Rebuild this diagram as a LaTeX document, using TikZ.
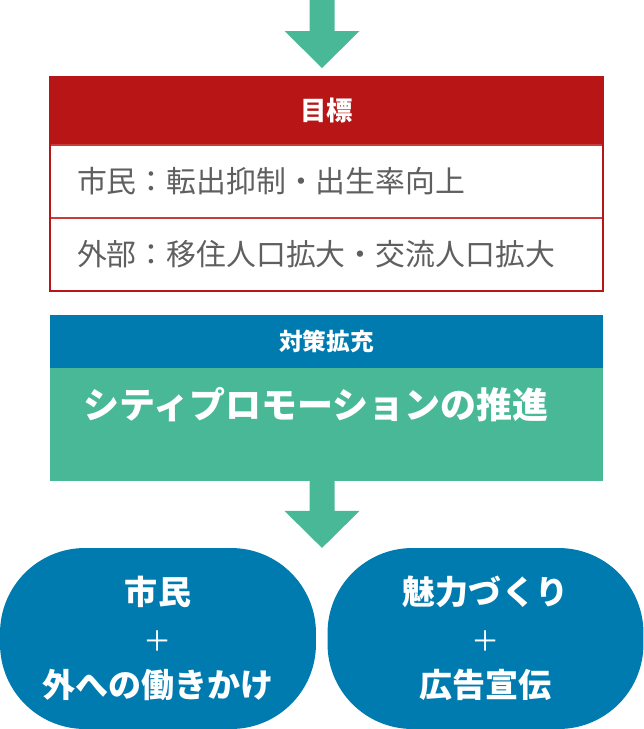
\documentclass[tikz,border=0pt]{standalone}
\usepackage{fontspec}
\newfontfamily\jp{Noto Sans CJK JP}
\usepackage{tikz}
\usetikzlibrary{positioning, calc}

\definecolor{goalred}{RGB}{183,21,22}
\definecolor{rowline}{RGB}{200,60,60}
\definecolor{planblue}{RGB}{0,123,176}
\definecolor{promogreen}{RGB}{73,184,150}
\definecolor{rowgray}{RGB}{95,95,95}

\tikzset{
  goalhead/.style={fill=goalred, text=white, font=\jp\bfseries\fontsize{15}{18}\selectfont,
    minimum width=11.06cm, minimum height=1.36cm, inner sep=0pt, outer sep=0pt},
  goalrow/.style={draw=rowline, line width=1.2pt, fill=white, text=rowgray,
    font=\jp\fontsize{17}{20}\selectfont, minimum width=11.06cm, minimum height=1.46cm,
    text width=9.98cm, align=left, inner xsep=0.54cm, inner ysep=0pt, outer sep=0pt},
  planhead/.style={fill=planblue, text=white, font=\jp\bfseries\fontsize{13.5}{16}\selectfont,
    minimum width=11.06cm, minimum height=1.06cm, inner sep=0pt, outer sep=0pt},
  promobox/.style={fill=promogreen, minimum width=11.06cm, minimum height=2.26cm,
    inner sep=0pt, outer sep=0pt},
  promotext/.style={text=white, font=\jp\bfseries\fontsize{20.5}{24}\selectfont, inner sep=0pt},
  pillbox/.style={fill=planblue, rounded corners=1.7cm, minimum width=6.32cm, minimum height=3.62cm,
    text=white, align=center, font=\jp\bfseries\fontsize{18.8}{26.6}\selectfont, inner sep=0pt}
}

% block arrow: #1 top of shaft, #2 tip
\newcommand{\flowarrow}[2]{%
  \fill[promogreen] ($(#1)+(-12.5,0)$) -- ($(#1)+(12.5,0)$) -- ($(#2)+(12.5,-37)$)
    -- ($(#2)+(37.5,-37)$) -- (#2) -- ($(#2)+(-37.5,-37)$) -- ($(#2)+(-12.5,-37)$) -- cycle;}

\begin{document}
\begin{tikzpicture}[x=0.02cm, y=-0.02cm]
\useasboundingbox (0,0) rectangle (644,729);

% goals
\node[goalhead] (goal) at (326.5,111) {目標};
\node[goalrow, below=0pt of goal] (citizen) {市民：転出抑制・出生率向上};
\node[goalrow, below=0pt of citizen] (outside) {外部：移住人口拡大・交流人口拡大};
\draw[goalred, line width=1.6pt] (goal.north west) rectangle (outside.south east);

% measures
\node[planhead, below=0.48cm of outside] (plan) {対策拡充};
\node[promobox, below=0pt of plan] (promo) {};
\node[promotext, anchor=west] (promolbl) at ([xshift=0.66cm, yshift=-0.74cm]promo.north west)
  {シティプロモーションの推進};

% results
\node[pillbox] (resident) at (158,638.5)
  {市民\\{\jp\mdseries\fontsize{16}{26.6}\selectfont ＋}\\外への働きかけ};
\node[pillbox] (appeal) at (485.5,638.5)
  {魅力づくり\\{\jp\mdseries\fontsize{16}{26.6}\selectfont ＋}\\広告宣伝};

% arrows
\coordinate (intop) at (322,0);
\coordinate (intip) at ($(goal.north)+(-4.5,-9)$);
\coordinate (outtop) at ($(promo.south)+(-4.5,0)$);
\coordinate (outtip) at ($(promo.south)+(-4.5,67)$);
\flowarrow{intop}{intip}
\flowarrow{outtop}{outtip}
\end{tikzpicture}
\end{document}
